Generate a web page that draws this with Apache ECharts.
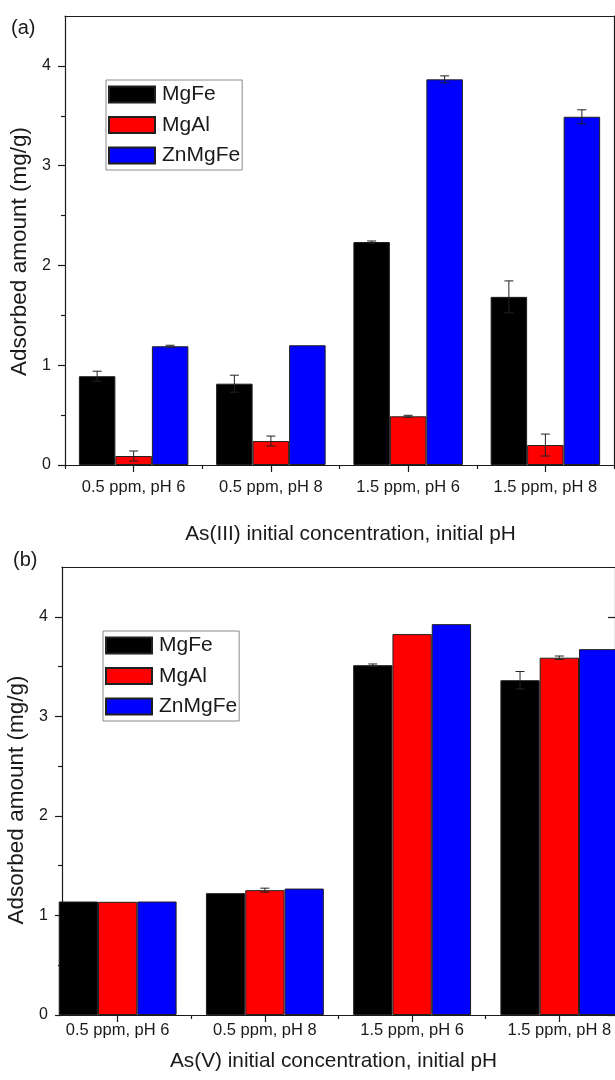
<!DOCTYPE html>
<html>
<head>
<meta charset="utf-8">
<script src="https://cdn.jsdelivr.net/npm/echarts@6/dist/echarts.min.js"></script>
<style>
html,body{margin:0;padding:0;background:#fff;}
#chart{width:615px;height:1080px;}
</style>
</head>
<body>
<div id="chart"></div>
<script>
// ---- data ----
const categories = ['0.5 ppm, pH 6', '0.5 ppm, pH 8', '1.5 ppm, pH 6', '1.5 ppm, pH 8'];
const seriesNames = ['MgFe', 'MgAl', 'ZnMgFe'];
const seriesColors = ['#000000', '#ff0000', '#0000ff'];
const yTickValues = [0, 1, 2, 3, 4];
const yMinorTickValues = [0.5, 1.5, 2.5, 3.5];

// (a) As(III)
const as3MgFe = [0.89, 0.815, 2.235, 1.685];
const as3MgFeErr = [0.05, 0.085, 0.01, 0.16];
const as3MgAl = [0.09, 0.24, 0.488, 0.20];
const as3MgAlErr = [0.05, 0.05, 0.01, 0.11];
const as3ZnMgFe = [1.19, 1.20, 3.865, 3.49];
const as3ZnMgFeErr = [0.01, 0.0, 0.035, 0.07];

// (b) As(V)
const as5MgFe = [1.14, 1.224, 3.514, 3.363];
const as5MgFeErr = [0.0, 0.0, 0.012, 0.087];
const as5MgAl = [1.137, 1.254, 3.826, 3.589];
const as5MgAlErr = [0.0, 0.02, 0.0, 0.017];
const as5ZnMgFe = [1.14, 1.27, 3.926, 3.675];
const as5ZnMgFeErr = [0.0, 0.0, 0.0, 0.0];

const FONT = 'Liberation Sans, Arial, sans-serif';
const TXT = '#1a1a1a';

function panel(gridIndex, xMin, xMax, minorX, values, errors, barWidth, opts) {
  const xBase = gridIndex * 3, yBase = gridIndex * 3;
  const centers = categories.map((c, i) => i + 1);
  const xAxes = [
    { gridIndex, type: 'value', min: xMin, max: xMax, position: 'bottom',
      axisLine: { show: true, onZero: false, lineStyle: { color: TXT, width: 1.2 } },
      axisTick: { show: true, customValues: centers, length: 7, lineStyle: { color: TXT, width: 1.2 } },
      axisLabel: { show: true, customValues: centers, margin: opts.xLabelMargin,
        formatter: v => categories[Math.round(v) - 1] || '',
        color: TXT, fontFamily: FONT, fontSize: 16.5 },
      splitLine: { show: false },
      name: opts.xName, nameLocation: 'middle', nameGap: opts.xNameGap,
      nameTextStyle: { color: TXT, fontFamily: FONT, fontSize: 20.8, padding: opts.xNamePad } },
    { gridIndex, type: 'value', min: xMin, max: xMax, position: 'bottom',
      axisLine: { show: false },
      axisTick: { show: true, customValues: minorX, length: 4, lineStyle: { color: TXT, width: 1.2 } },
      axisLabel: { show: false }, splitLine: { show: false } },
    { gridIndex, type: 'value', min: xMin, max: xMax, position: 'top',
      axisLine: { show: true, onZero: false, lineStyle: { color: TXT, width: 1.2 } },
      axisTick: { show: false }, axisLabel: { show: false }, splitLine: { show: false } }
  ];
  const yAxes = [
    { gridIndex, type: 'value', min: 0, max: 4.5, position: 'left',
      axisLine: { show: true, onZero: false, lineStyle: { color: TXT, width: 1.2 } },
      axisTick: { show: true, customValues: yTickValues, length: 7, lineStyle: { color: TXT, width: 1.2 } },
      axisLabel: { show: true, customValues: yTickValues, margin: 14, color: TXT, fontFamily: FONT, fontSize: 16 },
      splitLine: { show: false },
      name: 'Adsorbed amount (mg/g)', nameLocation: 'middle', nameGap: opts.yNameGap,
      nameTextStyle: { color: TXT, fontFamily: FONT, fontSize: 22.5, padding: opts.yNamePad } },
    { gridIndex, type: 'value', min: 0, max: 4.5, position: 'left',
      axisLine: { show: false },
      axisTick: { show: true, customValues: yMinorTickValues, length: 4, lineStyle: { color: TXT, width: 1.2 } },
      axisLabel: { show: false }, splitLine: { show: false } },
    { gridIndex, type: 'value', min: 0, max: 4.5, position: 'right',
      axisLine: { show: true, onZero: false, lineStyle: { color: TXT, width: 1.2 } },
      axisTick: { show: opts.rightTicks, inside: true, customValues: yTickValues, length: 7, lineStyle: { color: TXT, width: 1.2 } },
      axisLabel: { show: false }, splitLine: { show: false } }
  ];
  const series = [];
  seriesNames.forEach((name, si) => {
    series.push({
      name, type: 'bar', xAxisIndex: xBase, yAxisIndex: yBase,
      barWidth: barWidth, barGap: '0%',
      itemStyle: { color: seriesColors[si], borderColor: '#202020', borderWidth: 1 },
      data: values[si].map((v, i) => [centers[i], v]),
      z: 2
    });
  });
  seriesNames.forEach((name, si) => {
    const offset = (si - 1) * barWidth;
    series.push({
      name: name + ' error', type: 'custom', xAxisIndex: xBase, yAxisIndex: yBase,
      z: 5, silent: true, clip: false,
      data: values[si].map((v, i) => [centers[i], v, errors[si][i]]),
      renderItem: function (params, api) {
        const x = api.value(0), y = api.value(1), e = api.value(2);
        if (!e) return { type: 'group', children: [] };
        const hi = api.coord([x, y + e]);
        const lo = api.coord([x, y - e]);
        const px = hi[0] + offset;
        const cap = 4.5;
        const st = { stroke: '#222', lineWidth: 1 };
        return { type: 'group', children: [
          { type: 'line', shape: { x1: px, y1: hi[1], x2: px, y2: lo[1] }, style: st },
          { type: 'line', shape: { x1: px - cap, y1: hi[1], x2: px + cap, y2: hi[1] }, style: st },
          { type: 'line', shape: { x1: px - cap, y1: lo[1], x2: px + cap, y2: lo[1] }, style: st }
        ] };
      }
    });
  });
  return { xAxes, yAxes, series };
}

const pa = panel(0, 0.5, 4.5, [0.5, 1.5, 2.5, 3.5, 4.5],
  [as3MgFe, as3MgAl, as3ZnMgFe], [as3MgFeErr, as3MgAlErr, as3ZnMgFeErr], 36.5,
  { xName: 'As(III) initial concentration, initial pH', xNameGap: 59, xNamePad: [0, 0, 0, 22],
    xLabelMargin: 14, yNameGap: 33, yNamePad: [0, 22, 0, 0], rightTicks: false });
const pb = panel(1, 0.622, 4.378, [1.5, 2.5, 3.5],
  [as5MgFe, as5MgAl, as5ZnMgFe], [as5MgFeErr, as5MgAlErr, as5ZnMgFeErr], 39.3,
  { xName: 'As(V) initial concentration, initial pH', xNameGap: 36, xNamePad: [0, 10, 0, 0],
    xLabelMargin: 7, yNameGap: 33, yNamePad: [0, 18, 0, 0], rightTicks: true });

const legendCommon = {
  orient: 'vertical', icon: 'rect', itemWidth: 46, itemHeight: 16, itemGap: 9.5,
  padding: [4, 2, 4, 2], borderColor: '#8a8a8a', borderWidth: 1, backgroundColor: '#fff',
  textStyle: { color: TXT, fontFamily: FONT, fontSize: 21, lineHeight: 16, padding: [0, 0, 0, 2] },
  selectedMode: false, data: seriesNames
};

const option = {
  animation: false,
  backgroundColor: '#ffffff',
  title: [
    { text: '(a)', left: 11, top: 18, textStyle: { color: TXT, fontFamily: FONT, fontSize: 20, fontWeight: 'normal' }, padding: 0 },
    { text: '(b)', left: 13, top: 550, textStyle: { color: TXT, fontFamily: FONT, fontSize: 20, fontWeight: 'normal' }, padding: 0 }
  ],
  legend: [
    Object.assign({}, legendCommon, { left: 106, top: 80 }),
    Object.assign({}, legendCommon, { left: 103, top: 631 })
  ],
  grid: [
    { left: 65, top: 16, width: 549, height: 449, containLabel: false, outerBoundsMode: 'none' },
    { left: 62, top: 567, width: 553, height: 448, containLabel: false, outerBoundsMode: 'none' }
  ],
  xAxis: pa.xAxes.concat(pb.xAxes),
  yAxis: pa.yAxes.concat(pb.yAxes),
  series: pa.series.concat(pb.series)
};

const chart = echarts.init(document.getElementById('chart'), null, { renderer: 'canvas' });
chart.setOption(option);
</script>
</body>
</html>
